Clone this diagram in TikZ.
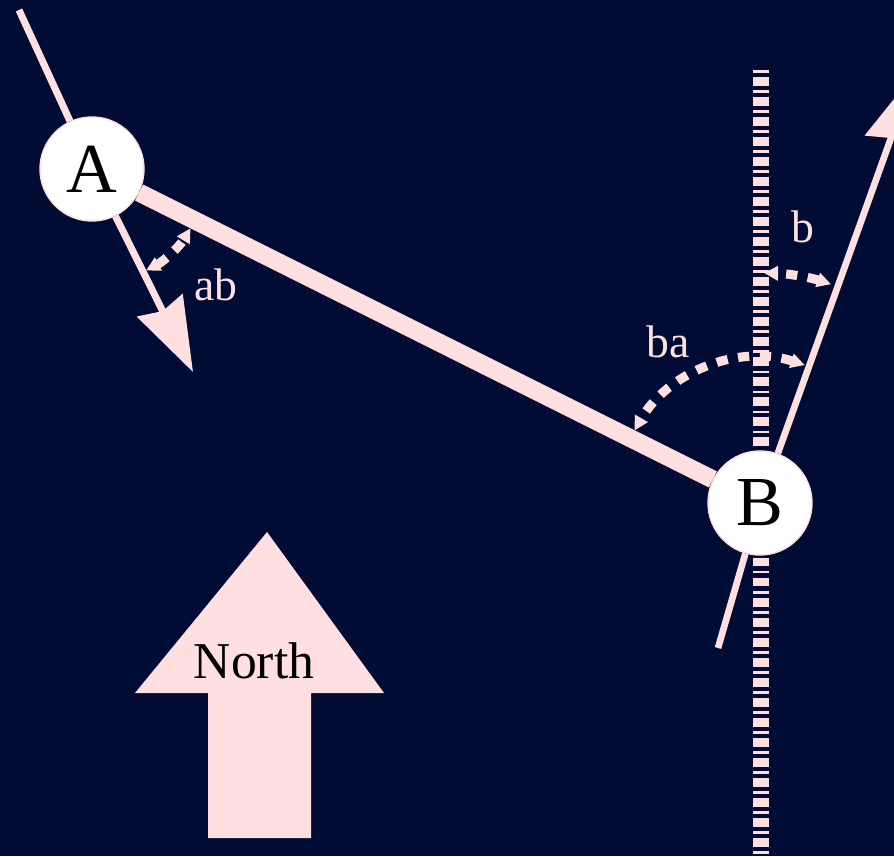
\documentclass[tikz,border=0pt]{standalone}
\usepackage{fontspec}
\setmainfont{Liberation Serif}
\usetikzlibrary{arrows.meta}
\definecolor{navy}{RGB}{0,12,51}
\definecolor{rose}{RGB}{255,223,223}

\begin{document}
\begin{tikzpicture}[
        pt/.style={circle,fill=white,draw=rose,thin,minimum size=1.04cm,inner sep=0pt,font=\fontsize{20}{24}\selectfont},
        lab/.style={text=rose,anchor=base,font=\fontsize{13}{15}\selectfont},
        ang/.style={rose,line width=2.6pt,dash pattern=on 3.2pt off 3pt,{Triangle[length=4pt,width=4pt]}-{Triangle[length=4pt,width=4pt]}},
        bigtip/.style={-{Stealth[length=0.74cm,width=0.5cm,inset=0.06cm]}}
    ]
        \useasboundingbox (0,0) rectangle (8.94,8.56);
        \fill[navy] (0,0) rectangle (8.94,8.56);
        \clip (0,0) rectangle (8.94,8.56);
        % meridian through B
        \draw[rose,line width=4.8pt,dash pattern=on 0.75pt off 1.2pt on 2.5pt off 1.25pt] (7.61,7.86) -- (7.61,0);
        % north arrow
        \fill[rose] (2.67,3.24) -- (3.84,1.63) -- (3.11,1.63) -- (3.11,0.18) -- (2.08,0.18) -- (2.08,1.63) -- (1.35,1.63) -- cycle;
        \node[anchor=base,font=\fontsize{14.7}{17}\selectfont] (north) at (2.54,1.78) {North};
        \node[pt] (A) at (0.92,6.87) {A};
        \node[pt] (B) at (7.60,3.53) {B};
        \coordinate (Atop) at (0.19,8.46);
        \coordinate (Atip) at (1.93,4.84);
        \coordinate (Bbot) at (7.18,2.08);
        \coordinate (Btip) at (9.14,7.82);
        \draw[rose,line width=2pt] (Atop) -- (A);
        \draw[rose,line width=2pt,bigtip] (A) -- (Atip);
        \draw[rose,line width=1.9pt] (Bbot) -- (B);
        \draw[rose,line width=1.9pt,bigtip] (B) -- (Btip);
        \draw[rose,line width=5.1pt] (A) -- (B);
        % angles
        \draw[ang] ([shift={(-62:1.15)}]A.center) arc (-62:-31:1.15);
        \draw[ang] ([shift={(72:1.45)}]B.center) arc (72:150:1.45);
        \draw[ang] ([shift={(72:2.3)}]B.center) arc (72:89:2.3);
        \node[lab] (labab) at (2.16,5.56) {ab};
        \node[lab] (labba) at (6.68,4.99) {ba};
        \node[lab] (labb) at (8.03,6.14) {b};
    \end{tikzpicture}
\end{document}
